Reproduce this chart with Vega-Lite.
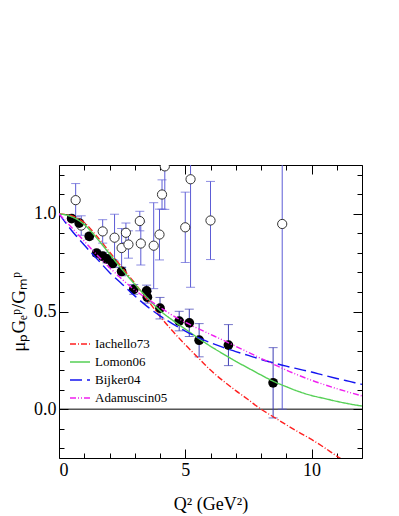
{
  "$schema": "https://vega.github.io/schema/vega-lite/v6.json",
  "width": 303,
  "height": 293,
  "autosize": {"type": "none"},
  "padding": {"left": 59, "top": 165, "right": 37, "bottom": 58},
  "background": "white",
  "config": {
    "view": {"stroke": "#000", "strokeWidth": 1},
    "font": "Liberation Serif",
    "axis": {"grid": false, "domain": false, "tickColor": "#000", "labelColor": "#000", "titleColor": "#000", "labelFont": "Liberation Serif", "titleFont": "Liberation Serif", "labelFontSize": 18, "titleFontSize": 18, "titleFontWeight": "normal", "tickWidth": 1}
  },
  "datasets": {
    "zero": [{"level": 0}],
    "filled": [
      {"q2": 0.5, "r": 0.976, "err": 0.01},
      {"q2": 0.8, "r": 0.953, "err": 0.012},
      {"q2": 1.2, "r": 0.885, "err": 0.015},
      {"q2": 1.49, "r": 0.799, "err": 0.015},
      {"q2": 1.73, "r": 0.783, "err": 0.02},
      {"q2": 1.9, "r": 0.769, "err": 0.02},
      {"q2": 2.13, "r": 0.746, "err": 0.02},
      {"q2": 2.48, "r": 0.705, "err": 0.022},
      {"q2": 2.96, "r": 0.613, "err": 0.025},
      {"q2": 3.47, "r": 0.605, "err": 0.03},
      {"q2": 3.5, "r": 0.573, "err": 0.03},
      {"q2": 4.0, "r": 0.517, "err": 0.055},
      {"q2": 4.76, "r": 0.451, "err": 0.05},
      {"q2": 5.16, "r": 0.442, "err": 0.07},
      {"q2": 5.55, "r": 0.353, "err": 0.085},
      {"q2": 6.71, "r": 0.328, "err": 0.105},
      {"q2": 8.48, "r": 0.135, "err": 0.18}
    ],
    "open": [
      {"q2": 0.66, "r": 1.07, "err": 0.085},
      {"q2": 0.88, "r": 0.94, "err": 0.05},
      {"q2": 1.73, "r": 0.91, "err": 0.06},
      {"q2": 2.2, "r": 0.878, "err": 0.12},
      {"q2": 2.48, "r": 0.825, "err": 0.1},
      {"q2": 2.65, "r": 0.903, "err": 0.05},
      {"q2": 2.75, "r": 0.843, "err": 0.07},
      {"q2": 3.2, "r": 0.963, "err": 0.05},
      {"q2": 3.24, "r": 0.848, "err": 0.11},
      {"q2": 3.75, "r": 0.837, "err": 0.22},
      {"q2": 3.98, "r": 0.894, "err": 0.13},
      {"q2": 4.08, "r": 1.099, "err": 0.075},
      {"q2": 4.19, "r": 1.243, "err": 0.22},
      {"q2": 5.0, "r": 0.931, "err": 0.18},
      {"q2": 5.21, "r": 1.177, "err": 0.553},
      {"q2": 6.0, "r": 0.966, "err": 0.2},
      {"q2": 8.84, "r": 0.948, "err": 0.948}
    ],
    "curves": [
      {"model": "Iachello73", "q2": 0, "r": 1.0},
      {"model": "Iachello73", "q2": 0.5, "r": 0.99},
      {"model": "Iachello73", "q2": 1, "r": 0.955},
      {"model": "Iachello73", "q2": 1.5, "r": 0.885},
      {"model": "Iachello73", "q2": 2, "r": 0.805},
      {"model": "Iachello73", "q2": 2.5, "r": 0.725},
      {"model": "Iachello73", "q2": 3, "r": 0.645},
      {"model": "Iachello73", "q2": 3.5, "r": 0.56},
      {"model": "Iachello73", "q2": 4, "r": 0.475},
      {"model": "Iachello73", "q2": 4.5, "r": 0.4},
      {"model": "Iachello73", "q2": 5, "r": 0.33},
      {"model": "Iachello73", "q2": 5.5, "r": 0.265},
      {"model": "Iachello73", "q2": 6, "r": 0.2},
      {"model": "Iachello73", "q2": 6.5, "r": 0.145},
      {"model": "Iachello73", "q2": 7, "r": 0.095},
      {"model": "Iachello73", "q2": 7.5, "r": 0.048},
      {"model": "Iachello73", "q2": 8, "r": 0.0},
      {"model": "Iachello73", "q2": 8.5, "r": -0.04},
      {"model": "Iachello73", "q2": 9, "r": -0.08},
      {"model": "Iachello73", "q2": 9.5, "r": -0.118},
      {"model": "Iachello73", "q2": 10, "r": -0.155},
      {"model": "Iachello73", "q2": 10.5, "r": -0.196},
      {"model": "Iachello73", "q2": 11, "r": -0.24},
      {"model": "Iachello73", "q2": 11.5, "r": -0.28},
      {"model": "Iachello73", "q2": 12, "r": -0.32},
      {"model": "Lomon06", "q2": 0, "r": 1.0},
      {"model": "Lomon06", "q2": 0.5, "r": 0.985},
      {"model": "Lomon06", "q2": 1, "r": 0.945},
      {"model": "Lomon06", "q2": 1.5, "r": 0.875},
      {"model": "Lomon06", "q2": 2, "r": 0.795},
      {"model": "Lomon06", "q2": 2.5, "r": 0.715},
      {"model": "Lomon06", "q2": 3, "r": 0.64},
      {"model": "Lomon06", "q2": 3.5, "r": 0.57},
      {"model": "Lomon06", "q2": 4, "r": 0.505},
      {"model": "Lomon06", "q2": 4.5, "r": 0.455},
      {"model": "Lomon06", "q2": 5, "r": 0.41},
      {"model": "Lomon06", "q2": 5.5, "r": 0.365},
      {"model": "Lomon06", "q2": 6, "r": 0.322},
      {"model": "Lomon06", "q2": 6.5, "r": 0.283},
      {"model": "Lomon06", "q2": 7, "r": 0.245},
      {"model": "Lomon06", "q2": 7.5, "r": 0.21},
      {"model": "Lomon06", "q2": 8, "r": 0.175},
      {"model": "Lomon06", "q2": 8.5, "r": 0.142},
      {"model": "Lomon06", "q2": 9, "r": 0.115},
      {"model": "Lomon06", "q2": 9.5, "r": 0.09},
      {"model": "Lomon06", "q2": 10, "r": 0.07},
      {"model": "Lomon06", "q2": 10.5, "r": 0.055},
      {"model": "Lomon06", "q2": 11, "r": 0.04},
      {"model": "Lomon06", "q2": 11.5, "r": 0.027},
      {"model": "Lomon06", "q2": 12, "r": 0.016},
      {"model": "Bijker04", "q2": 0, "r": 1.0},
      {"model": "Bijker04", "q2": 0.5, "r": 0.915},
      {"model": "Bijker04", "q2": 1, "r": 0.84},
      {"model": "Bijker04", "q2": 1.5, "r": 0.77},
      {"model": "Bijker04", "q2": 2, "r": 0.7},
      {"model": "Bijker04", "q2": 2.5, "r": 0.64},
      {"model": "Bijker04", "q2": 3, "r": 0.58},
      {"model": "Bijker04", "q2": 3.5, "r": 0.525},
      {"model": "Bijker04", "q2": 4, "r": 0.478},
      {"model": "Bijker04", "q2": 4.5, "r": 0.437},
      {"model": "Bijker04", "q2": 5, "r": 0.4},
      {"model": "Bijker04", "q2": 5.5, "r": 0.368},
      {"model": "Bijker04", "q2": 6, "r": 0.34},
      {"model": "Bijker04", "q2": 6.5, "r": 0.316},
      {"model": "Bijker04", "q2": 7, "r": 0.295},
      {"model": "Bijker04", "q2": 7.5, "r": 0.275},
      {"model": "Bijker04", "q2": 8, "r": 0.255},
      {"model": "Bijker04", "q2": 8.5, "r": 0.237},
      {"model": "Bijker04", "q2": 9, "r": 0.22},
      {"model": "Bijker04", "q2": 9.5, "r": 0.205},
      {"model": "Bijker04", "q2": 10, "r": 0.19},
      {"model": "Bijker04", "q2": 10.5, "r": 0.173},
      {"model": "Bijker04", "q2": 11, "r": 0.157},
      {"model": "Bijker04", "q2": 11.5, "r": 0.142},
      {"model": "Bijker04", "q2": 12, "r": 0.127},
      {"model": "Adamuscin05", "q2": 0, "r": 1.0},
      {"model": "Adamuscin05", "q2": 0.5, "r": 0.93},
      {"model": "Adamuscin05", "q2": 1, "r": 0.86},
      {"model": "Adamuscin05", "q2": 1.5, "r": 0.79},
      {"model": "Adamuscin05", "q2": 2, "r": 0.725},
      {"model": "Adamuscin05", "q2": 2.5, "r": 0.665},
      {"model": "Adamuscin05", "q2": 3, "r": 0.61},
      {"model": "Adamuscin05", "q2": 3.5, "r": 0.565},
      {"model": "Adamuscin05", "q2": 4, "r": 0.522},
      {"model": "Adamuscin05", "q2": 4.5, "r": 0.48},
      {"model": "Adamuscin05", "q2": 5, "r": 0.445},
      {"model": "Adamuscin05", "q2": 5.5, "r": 0.413},
      {"model": "Adamuscin05", "q2": 6, "r": 0.383},
      {"model": "Adamuscin05", "q2": 6.5, "r": 0.353},
      {"model": "Adamuscin05", "q2": 7, "r": 0.322},
      {"model": "Adamuscin05", "q2": 7.5, "r": 0.291},
      {"model": "Adamuscin05", "q2": 8, "r": 0.26},
      {"model": "Adamuscin05", "q2": 8.5, "r": 0.23},
      {"model": "Adamuscin05", "q2": 9, "r": 0.2},
      {"model": "Adamuscin05", "q2": 9.5, "r": 0.173},
      {"model": "Adamuscin05", "q2": 10, "r": 0.148},
      {"model": "Adamuscin05", "q2": 10.5, "r": 0.126},
      {"model": "Adamuscin05", "q2": 11, "r": 0.105},
      {"model": "Adamuscin05", "q2": 11.5, "r": 0.086},
      {"model": "Adamuscin05", "q2": 12, "r": 0.068}
    ]
  },
  "layer": [
    {
      "data": {"name": "zero"},
      "mark": {"type": "rule", "color": "#000", "strokeWidth": 1},
      "encoding": {"y": {"field": "level", "type": "quantitative", "scale": {"domain": [-0.25, 1.25], "nice": false, "zero": false}, "axis": null}}
    },
    {
      "data": {"name": "open"},
      "mark": {"type": "errorbar", "ticks": {"size": 9}, "color": "#5c5cd6", "clip": true, "thickness": 1},
      "encoding": {
        "x": {"field": "q2", "type": "quantitative", "scale": {"domain": [0, 12], "nice": false, "zero": false}, "axis": null},
        "y": {"field": "r", "type": "quantitative", "scale": {"domain": [-0.25, 1.25], "nice": false, "zero": false}, "axis": null},
        "yError": {"field": "err"}
      }
    },
    {
      "data": {"name": "filled"},
      "mark": {"type": "errorbar", "ticks": {"size": 9}, "color": "#3c3cb4", "clip": true, "thickness": 1},
      "encoding": {
        "x": {"field": "q2", "type": "quantitative", "scale": {"domain": [0, 12], "nice": false, "zero": false}, "axis": null},
        "y": {"field": "r", "type": "quantitative", "scale": {"domain": [-0.25, 1.25], "nice": false, "zero": false}, "axis": null},
        "yError": {"field": "err"}
      }
    },
    {
      "data": {"name": "open"},
      "mark": {"type": "point", "shape": "circle", "filled": false, "fill": "white", "fillOpacity": 1, "stroke": "#333", "strokeWidth": 1, "size": 85, "opacity": 1, "clip": true},
      "encoding": {
        "x": {"field": "q2", "type": "quantitative", "scale": {"domain": [0, 12], "nice": false, "zero": false},
          "axis": {"orient": "bottom", "values": [0, 1, 2, 3, 4, 5, 6, 7, 8, 9, 10, 11, 12], "format": "d", "labelExpr": "datum.value % 5 === 0 ? datum.label : ''", "tickSize": {"condition": {"test": "datum.value % 5 === 0", "value": -9}, "value": -5}, "labelPadding": 12, "title": "Q² (GeV²)", "titlePadding": 16}},
        "y": {"field": "r", "type": "quantitative", "scale": {"domain": [-0.25, 1.25], "nice": false, "zero": false},
          "axis": {"orient": "left", "values": [-0.2, -0.1, 0, 0.1, 0.2, 0.3, 0.4, 0.5, 0.6, 0.7, 0.8, 0.9, 1.0, 1.1, 1.2], "labelExpr": "abs(datum.value * 2 - round(datum.value * 2)) < 0.000001 ? format(datum.value, '.1f') : ''", "tickSize": {"condition": {"test": "abs(datum.value * 2 - round(datum.value * 2)) < 0.000001", "value": -9}, "value": -5}, "labelPadding": 12, "title": "μₚGₑᵖ/Gₘᵖ", "titleFontSize": 19, "titlePadding": 5}}
      }
    },
    {
      "data": {"name": "filled"},
      "mark": {"type": "circle", "color": "#000", "size": 95, "opacity": 1, "clip": true},
      "encoding": {
        "x": {"field": "q2", "type": "quantitative", "scale": {"domain": [0, 12], "nice": false, "zero": false}, "axis": null},
        "y": {"field": "r", "type": "quantitative", "scale": {"domain": [-0.25, 1.25], "nice": false, "zero": false}, "axis": null}
      }
    },
    {
      "data": {"name": "curves"},
      "mark": {"type": "line", "strokeWidth": 1.4, "clip": true, "interpolate": "monotone"},
      "encoding": {
        "x": {"field": "q2", "type": "quantitative", "scale": {"domain": [0, 12], "nice": false, "zero": false},
          "axis": {"orient": "top", "values": [0, 1, 2, 3, 4, 5, 6, 7, 8, 9, 10, 11, 12], "labels": false, "title": null, "tickSize": {"condition": {"test": "datum.value % 5 === 0", "value": -9}, "value": -5}}},
        "y": {"field": "r", "type": "quantitative", "scale": {"domain": [-0.25, 1.25], "nice": false, "zero": false},
          "axis": {"orient": "right", "values": [-0.2, -0.1, 0, 0.1, 0.2, 0.3, 0.4, 0.5, 0.6, 0.7, 0.8, 0.9, 1.0, 1.1, 1.2], "labels": false, "title": null, "tickSize": {"condition": {"test": "abs(datum.value * 2 - round(datum.value * 2)) < 0.000001", "value": -9}, "value": -5}}},
        "color": {"field": "model", "type": "nominal",
          "scale": {"domain": ["Iachello73", "Lomon06", "Bijker04", "Adamuscin05"], "range": ["#ff2020", "#55d055", "#1414f0", "#f020f0"]},
          "legend": {"orient": "none", "legendX": 10, "legendY": 168, "title": null, "symbolType": "stroke", "symbolSize": 400, "symbolStrokeWidth": 1.5, "labelFont": "Liberation Serif", "labelFontSize": 13, "labelColor": "#000", "labelOffset": 4, "rowPadding": -2, "padding": 0}},
        "strokeDash": {"field": "model", "type": "nominal",
          "scale": {"domain": ["Iachello73", "Lomon06", "Bijker04", "Adamuscin05"], "range": [[6, 2, 1, 2], [1, 0], [12, 5], [6, 2, 1, 2, 1, 2]]},
          "legend": {"orient": "none", "legendX": 10, "legendY": 168, "title": null, "symbolType": "stroke", "symbolSize": 400, "symbolStrokeWidth": 1.5, "labelFont": "Liberation Serif", "labelFontSize": 13, "labelColor": "#000", "labelOffset": 4, "rowPadding": -2, "padding": 0}}
      }
    }
  ],
  "resolve": {"axis": {"x": "independent", "y": "independent"}}
}
